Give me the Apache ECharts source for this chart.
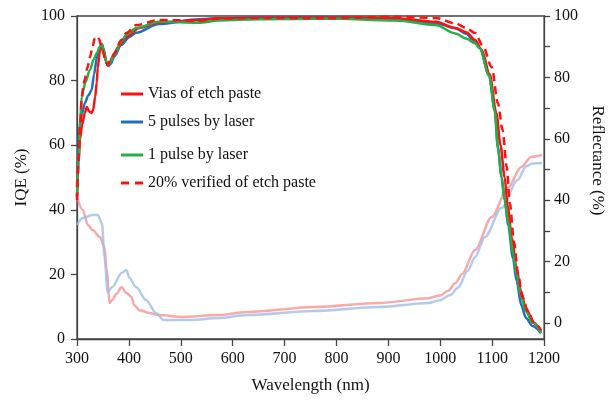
<!DOCTYPE html>
<html>
<head>
<meta charset="utf-8">
<script src="https://cdn.jsdelivr.net/npm/echarts@6/dist/echarts.min.js"></script>
<style>
  html, body { margin: 0; padding: 0; background: #fff; }
  #chart { width: 614px; height: 401px; }
</style>
</head>
<body>
<div id="chart"></div>
<script>
// IQE, vias of etch paste (red solid)
const viasWl = [300,303,306,310,315,319,323,328,331,335,338,340,344,348,352,356,359,364,368,380,395,420,458,534,572,650,781,915,991,1029,1050,1067,1080,1095,1108,1116,1124,1130,1138,1147,1155,1165,1180,1194]
const viasIqe = [44,55,62,66.5,70,71.8,70.5,70,70.8,75,79.3,84,89,91,88.5,86,84.8,85.8,87.3,90.5,93.5,96.3,98,98.7,99.2,99.4,99.5,99.3,98.2,96.3,95,92.6,89.5,82,70,60,50,41,31,22,15,9.5,5,2.4]

// IQE, 5 pulses by laser (blue)
const pulse5Wl = [300,303,305,310,315,322,328,333,338,343,348,352,356,360,365,372,385,401,414,458,534,572,650,781,915,991,1029,1050,1067,1076,1094,1105,1111,1118,1124,1131,1140,1147,1156,1165,1178,1194]
const pulse5Iqe = [47,60,66,70,73,75.5,77,82,87,90,91.3,89.5,86,84.5,85.2,87.5,91,93.5,94.8,97.5,99,99.3,99.5,99.7,99,97.8,96.2,94.5,91.8,90.1,81.7,70.9,59.4,50.2,43,35,25,18,10.5,6.5,4,1.8]

// IQE, 1 pulse by laser (green)
const pulse1Wl = [300,303,306,309,312,316,325,332,338,344,348,352,356,359,364,372,385,395,414,458,534,572,650,781,915,991,1029,1050,1067,1076,1094,1105,1111,1118,1124,1131,1140,1147,1156,1165,1178,1194]
const pulse1Iqe = [44,56,67,75,77,79.5,83.3,86.5,88.5,90.5,91.2,89,86,84.8,85.5,88,92,94.2,96.3,98.2,97.9,98.6,99,99.2,98.6,97.2,94.6,93,91.6,90,81.5,70.5,59,50,43,36,27,20,13,8.5,5,2]

// IQE, 20% verified of etch paste (red dashed)
const verifiedWl = [300,303,306,309,312,315,320,325,330,334,338,342,349,355,359,365,372,385,395,414,458,534,572,650,781,915,991,1029,1050,1067,1082,1099,1111,1120,1128,1134,1142,1150,1158,1170,1181,1194]
const verifiedIqe = [43,55,66,74,78,80.5,84,87.3,90.5,93,93.8,93,89.5,86,84.8,86.5,88.5,92.5,94.7,97.2,98.8,98.5,99.2,99.4,99.3,99.8,99.4,97.7,96.3,94.7,90.8,84.2,73.1,64.7,53.3,42,30,20,13,8,5,2.8]

// reflectance (right axis)
const viasReflWl = [300,311,321,330,344,353,357,363,368,376,386,395,405,410,420,439,458,502,572,629,757,882,977,1000,1015,1029,1042,1067,1099,1130,1156,1175,1196]
const viasRefl = [41,36.8,31.9,30.3,28,24.8,17.3,6.5,7.5,9.5,11.7,9.8,8.5,5.9,4.2,3.3,2.6,2,2.6,3.6,5.2,6.5,8.1,9,10.5,13,16,23.8,34.5,44,50.8,54.1,54.7]
const pulse5ReflWl = [300,311,330,340,348,353,359,368,386,395,401,414,433,452,467,521,572,629,757,882,977,1000,1019,1034,1053,1067,1086,1118,1149,1165,1178,1196]
const pulse5Refl = [32,34.2,35.2,35.2,32.6,21.5,10.1,11.7,16.3,17.3,14.7,11.7,7.5,3.3,1,1,1.6,2.6,3.9,5.2,6.5,7.5,9.1,11.5,17,21.5,28,37.5,46.6,51,52,52.1]

const legendNames = ['Vias of etch paste', '5 pulses by laser', '1 pulse by laser', '20% verified of etch paste']
const legendTops = [81, 109, 142, 170]

const font = 'Liberation Serif'
const zip = (xs, ys) => xs.map((x, i) => [x, ys[i]])

// legend icons: plain line, and two dashes for the dashed series
const solidIcon = 'path://M0,0H22V3H0Z'
const dashIcon = 'path://M0,0H8V3H0Z M14,0H22V3H14Z'

const chart = echarts.init(document.getElementById('chart'))

const lineSeries = (name, xs, ys, color, extra) => ({
  name,
  type: 'line',
  data: zip(xs, ys),
  showSymbol: false,
  symbol: 'none',
  smooth: 0.3,
  smoothMonotone: 'x',
  lineStyle: Object.assign({ color, width: 2.5 }, extra || {}),
  itemStyle: { color }
})

chart.setOption({
  animation: false,
  grid: {
    left: 77, right: 64, top: 16, bottom: 62,
    show: true, borderColor: '#444', borderWidth: 1.3, backgroundColor: 'transparent'
  },
  legend: legendNames.map((n, i) => ({
    data: [{ name: n, icon: i === 3 ? dashIcon : solidIcon }],
    left: 116,
    top: legendTops[i],
    itemWidth: 22,
    itemHeight: 3,
    itemStyle: { borderWidth: 0 },
    textStyle: { fontFamily: font, fontSize: 16, color: '#111' }
  })),
  xAxis: {
    type: 'value',
    min: 300, max: 1200, interval: 100,
    name: 'Wavelength (nm)',
    nameLocation: 'middle',
    nameGap: 38,
    nameTextStyle: { fontFamily: font, fontSize: 17, color: '#111' },
    axisLine: { lineStyle: { color: '#444', width: 1.3 } },
    axisTick: { length: 7, lineStyle: { color: '#444', width: 1.3 } },
    axisLabel: { fontFamily: font, fontSize: 16, color: '#111', margin: 12, formatter: v => String(v) },
    splitLine: { show: false }
  },
  yAxis: [
    {
      type: 'value',
      min: 0, max: 100, interval: 20,
      name: 'IQE (%)',
      nameLocation: 'middle',
      nameGap: 45,
      nameTextStyle: { fontFamily: font, fontSize: 17, color: '#111' },
      axisLine: { show: true, lineStyle: { color: '#444', width: 1.3 } },
      axisTick: { show: true, length: 6, lineStyle: { color: '#444', width: 1.3 } },
      axisLabel: { fontFamily: font, fontSize: 16, color: '#111', margin: 12 },
      splitLine: { show: false }
    },
    {
      type: 'value',
      position: 'right',
      min: -5.2, max: 100,
      name: 'Reflectance (%)',
      nameLocation: 'middle',
      nameGap: 42,
      nameRotate: -90,
      nameTextStyle: { fontFamily: font, fontSize: 17, color: '#111', padding: [0, 34, 0, 0] },
      axisLine: { show: true, lineStyle: { color: '#444', width: 1.3 } },
      axisTick: { show: true, length: 6, lineStyle: { color: '#444', width: 1.3 },
        customValues: [0, 10, 20, 30, 40, 50, 60, 70, 80, 90, 100] },
      axisLabel: { fontFamily: font, fontSize: 16, color: '#111', margin: 10,
        customValues: [0, 20, 40, 60, 80, 100] },
      splitLine: { show: false }
    }
  ],
  series: [
    Object.assign(lineSeries('viasRefl', viasReflWl, viasRefl, 'rgba(245,140,140,0.75)', { width: 2.5 }), { yAxisIndex: 1 }),
    Object.assign(lineSeries('pulse5Refl', pulse5ReflWl, pulse5Refl, 'rgba(160,190,228,0.8)', { width: 2.5 }), { yAxisIndex: 1 }),
    lineSeries('5 pulses by laser', pulse5Wl, pulse5Iqe, '#1f6fc0'),
    lineSeries('Vias of etch paste', viasWl, viasIqe, '#ff1010'),
    lineSeries('1 pulse by laser', pulse1Wl, pulse1Iqe, '#22b04a'),
    lineSeries('20% verified of etch paste', verifiedWl, verifiedIqe, '#ff1010', { type: [8, 5] })
  ]
})
</script>
</body>
</html>
